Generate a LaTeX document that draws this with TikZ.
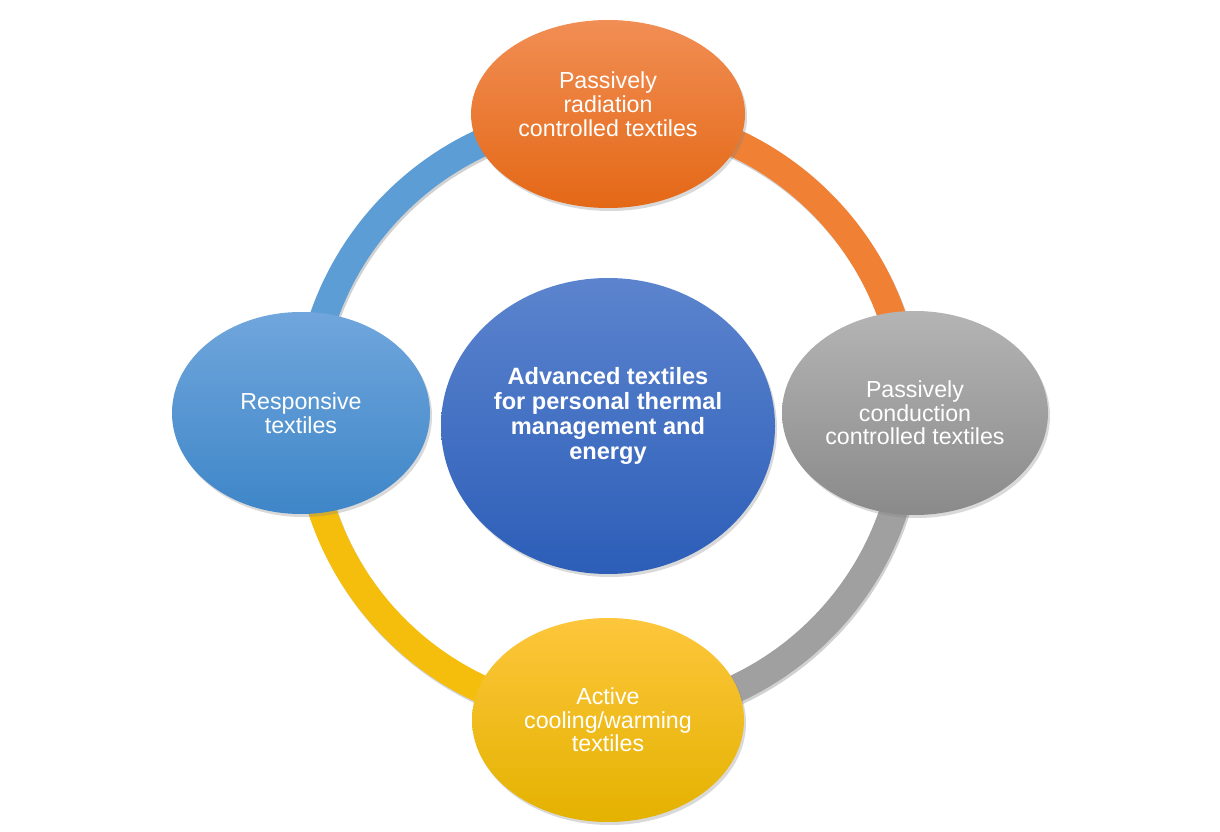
\documentclass[tikz,border=0pt]{standalone}
\usepackage{fontspec}
\setmainfont{Liberation Sans}
\usetikzlibrary{shapes.geometric,shadows}

\definecolor{hubtop}{RGB}{92,132,206}
\definecolor{hubbot}{RGB}{44,94,184}
\definecolor{radtop}{RGB}{241,142,84}
\definecolor{radbot}{RGB}{228,104,22}
\definecolor{contop}{RGB}{180,180,180}
\definecolor{conbot}{RGB}{138,138,138}
\definecolor{resptop}{RGB}{112,166,220}
\definecolor{respbot}{RGB}{62,134,200}
\definecolor{acttop}{RGB}{253,198,60}
\definecolor{actbot}{RGB}{228,178,0}
\definecolor{ringblue}{RGB}{93,157,214}
\definecolor{ringorange}{RGB}{240,128,52}
\definecolor{ringgray}{RGB}{160,160,160}
\definecolor{ringyellow}{RGB}{246,190,12}

\newcommand{\upby}[2]{\raisebox{#1}[\height][\depth]{\begin{tabular}{@{}c@{}}#2\end{tabular}}}

\begin{document}
\begin{tikzpicture}[x=0.5pt,y=0.5pt,
  bubble/.style={ellipse,inner sep=0pt,text=white,align=center,
    font=\fontsize{11.6}{11.8}\selectfont,
    drop shadow={opacity=0.3,shadow xshift=1pt,shadow yshift=-1.5pt}},
  ringarc/.style={line width=14pt,draw=#1}]
\useasboundingbox (0,0) rectangle (1220,831);
\coordinate (hub) at (608,415);

\draw[ringarc=black,opacity=0.18] ([shift={(1.5,-2.5)}]hub) circle[radius=301];
\draw[ringarc=ringorange] ([shift={(90:301)}]hub) arc[start angle=90,end angle=0,radius=301];
\draw[ringarc=ringgray] ([shift={(0:301)}]hub) arc[start angle=0,end angle=-90,radius=301];
\draw[ringarc=ringyellow] ([shift={(-90:301)}]hub) arc[start angle=-90,end angle=-180,radius=301];
\draw[ringarc=ringblue] ([shift={(180:301)}]hub) arc[start angle=180,end angle=90,radius=301];

\node[bubble,top color=hubtop,bottom color=hubbot,minimum width=167pt,minimum height=148pt,
  font=\fontsize{11.8}{12.5}\selectfont\bfseries] (core) at (608,405)
  {\upby{4.5pt}{Advanced textiles\\for personal thermal\\management and\\energy}};
\node[bubble,top color=radtop,bottom color=radbot,minimum width=137pt,minimum height=94pt]
  (radiation) at (608,717) {\upby{3pt}{Passively\\radiation\\controlled textiles}};
\node[bubble,top color=contop,bottom color=conbot,minimum width=133pt,minimum height=102pt]
  (conduction) at (915,418) {Passively\\conduction\\controlled textiles};
\node[bubble,top color=acttop,bottom color=actbot,minimum width=136pt,minimum height=102pt]
  (active) at (608,111) {Active\\cooling/warming\\textiles};
\node[bubble,top color=resptop,bottom color=respbot,minimum width=129pt,minimum height=101pt]
  (responsive) at (301,418) {Responsive\\textiles};
\end{tikzpicture}
\end{document}
